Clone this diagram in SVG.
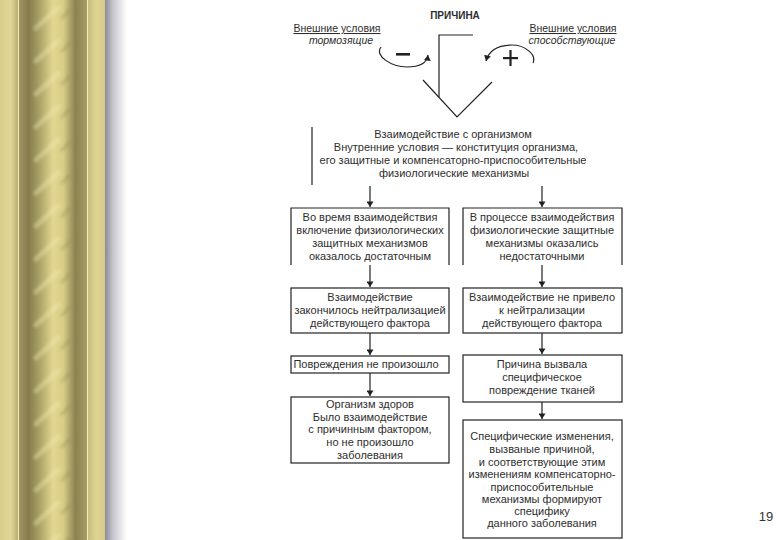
<svg xmlns="http://www.w3.org/2000/svg" width="780" height="540" viewBox="0 0 780 540">
<defs>
<linearGradient id="outerL" x1="0" x2="1" y1="0" y2="0">
<stop offset="0" stop-color="#d9cd8c"/><stop offset="0.6" stop-color="#e2d696"/><stop offset="1" stop-color="#b8ad72"/>
</linearGradient>
<linearGradient id="outerR" x1="0" x2="1" y1="0" y2="0">
<stop offset="0" stop-color="#c9bd7e"/><stop offset="0.5" stop-color="#e0d492"/><stop offset="1" stop-color="#d6ca8a"/>
</linearGradient>
<linearGradient id="col" x1="0" x2="1" y1="0" y2="0">
<stop offset="0" stop-color="#a59a62"/><stop offset="0.15" stop-color="#857a4c"/><stop offset="0.3" stop-color="#a8a064"/>
<stop offset="0.5" stop-color="#e2d690"/><stop offset="0.65" stop-color="#d8cc86"/><stop offset="0.82" stop-color="#8c8250"/>
<stop offset="1" stop-color="#a89e66"/>
</linearGradient>
<linearGradient id="shadow" x1="0" x2="1" y1="0" y2="0">
<stop offset="0" stop-color="#8a8a98"/><stop offset="0.35" stop-color="#c4c4cc"/><stop offset="1" stop-color="#ffffff"/>
</linearGradient>
<pattern id="streaks" width="70" height="33" patternUnits="userSpaceOnUse">
<path d="M36,28 L58,8" stroke="#f4eab4" stroke-width="5" stroke-linecap="round" opacity="0.4"/>
<path d="M62,18 L70,10" stroke="#6e6440" stroke-width="3" stroke-linecap="round" opacity="0.25"/>
</pattern>
<filter id="soft" x="-0.1" y="-0.1" width="1.2" height="1.2">
<feGaussianBlur stdDeviation="1.6"/>
</filter>
<marker id="ah" viewBox="0 0 8 10" refX="8" refY="5" markerWidth="6" markerHeight="7" orient="auto" markerUnits="userSpaceOnUse">
<path d="M0,0 L8,5 L0,10 Z" fill="#222"/>
</marker>
<style>
text{font-family:"Liberation Sans",Arial,sans-serif;fill:#2e2e2e;}
.t{font-size:11px;text-anchor:middle;}
.box{fill:none;stroke:#222;stroke-width:1.2;}
.ln{fill:none;stroke:#222;stroke-width:1.2;}
.arr{fill:none;stroke:#222;stroke-width:1.2;marker-end:url(#ah);}
</style>
</defs>

<g id="border">
<rect x="0" y="0" width="18" height="540" fill="url(#outerL)"/>
<rect x="18" y="0" width="70" height="540" fill="url(#col)"/>
<rect x="18" y="-10" width="70" height="560" fill="url(#streaks)" filter="url(#soft)"/>
<rect x="88" y="0" width="17" height="540" fill="url(#outerR)"/>
<rect x="18" y="0" width="1" height="540" fill="#f2eab8"/>
<rect x="87" y="0" width="1" height="540" fill="#f2eab8"/>
<rect x="105" y="0" width="22" height="540" fill="url(#shadow)"/>
</g>

<g id="cause">
<text x="455" y="19" style="font-size:10px;font-weight:bold;text-anchor:middle">ПРИЧИНА</text>
</g>
<g id="inhibit">
<text x="337" y="32" class="t" style="font-size:10.5px;text-decoration:underline">Внешние условия</text>
<text x="341" y="44" class="t" style="font-size:10.5px;font-style:italic">тормозящие</text>
</g>
<g id="promote">
<text x="573" y="32" class="t" style="font-size:10.5px;text-decoration:underline">Внешние условия</text>
<text x="572" y="44" class="t" style="font-size:10.5px;font-style:italic">способствующие</text>
</g>
<g id="minus">
<path d="M381,47 C374,56 392,67 407,67 C419,67 427,63 428,55" class="arr"/>
<rect x="396" y="53" width="14" height="2.6" fill="#222"/>
</g>
<g id="plus">
<path d="M533,63 C537,54 524,45 512,45 C499,45 489,50 486,61" class="arr"/>
<rect x="503" y="57" width="15" height="2.2" fill="#222"/>
<rect x="509.4" y="50" width="2.2" height="16" fill="#222"/>
</g>

<g id="interaction">
<text x="453" y="138" class="t">Взаимодействие с организмом</text>
<text x="456" y="151" class="t">Внутренние условия — конституция организма,</text>
<text x="453" y="164" class="t">его защитные и компенсаторно-приспособительные</text>
<text x="454" y="177" class="t">физиологические механизмы</text>
</g>

<g id="L1">
<path d="M291,265 V208 H449 V265" class="box"/>
<text x="370" y="221" class="t">Во время взаимодействия</text>
<text x="370" y="234" class="t">включение физиологических</text>
<text x="370" y="247" class="t">защитных механизмов</text>
<text x="370" y="260" class="t">оказалось достаточным</text>
</g>
<g id="R1">
<path d="M463,265 V208 H622 V265" class="box"/>
<text x="542" y="221" class="t">В процессе взаимодействия</text>
<text x="542" y="234" class="t">физиологические защитные</text>
<text x="542" y="247" class="t">механизмы оказались</text>
<text x="542" y="260" class="t">недостаточными</text>
</g>
<g id="L2">
<rect x="291" y="288" width="158" height="45" class="box"/>
<text x="370" y="301" class="t">Взаимодействие</text>
<text x="370" y="314" class="t">закончилось нейтрализацией</text>
<text x="370" y="327" class="t">действующего фактора</text>
</g>
<g id="R2">
<rect x="463" y="288" width="159" height="45" class="box"/>
<text x="542" y="301" class="t">Взаимодействие не привело</text>
<text x="542" y="314" class="t">к нейтрализации</text>
<text x="542" y="327" class="t">действующего фактора</text>
</g>
<g id="L3">
<rect x="291" y="356" width="158" height="17" class="box"/>
<text x="366" y="368" class="t">Повреждения не произошло</text>
</g>
<g id="R3">
<rect x="463" y="355" width="159" height="47" class="box"/>
<text x="542" y="368" class="t">Причина вызвала</text>
<text x="542" y="381" class="t">специфическое</text>
<text x="542" y="394" class="t">повреждение тканей</text>
</g>
<g id="L4">
<rect x="291" y="397" width="158" height="66" class="box"/>
<text x="370" y="408" class="t">Организм здоров</text>
<text x="370" y="421" class="t">Было взаимодействие</text>
<text x="370" y="433" class="t">с причинным фактором,</text>
<text x="370" y="446" class="t">но не произошло</text>
<text x="370" y="459" class="t">заболевания</text>
</g>
<g id="R4">
<rect x="463" y="420" width="159" height="118" class="box"/>
<text x="542" y="440" class="t">Специфические изменения,</text>
<text x="542" y="453" class="t">вызваные причиной,</text>
<text x="542" y="466" class="t">и соответствующие этим</text>
<text x="542" y="478" class="t">изменениям компенсаторно-</text>
<text x="542" y="491" class="t">приспособительные</text>
<text x="542" y="503" class="t">механизмы формируют</text>
<text x="542" y="515" class="t">специфику</text>
<text x="542" y="527" class="t">данного заболевания</text>
</g>

<g id="connectors">
<path d="M473,35 H439 V97" class="ln"/>
<path d="M423,80 L457,117 L492,82" class="ln"/>
<path d="M312,127 V185" class="ln"/>
<path d="M370,186 V207" class="arr"/>
<path d="M542,186 V207" class="arr"/>
<path d="M370,265 V287" class="arr"/>
<path d="M542,265 V287" class="arr"/>
<path d="M370,333 V355" class="arr"/>
<path d="M542,333 V354" class="arr"/>
<path d="M370,373 V396" class="arr"/>
<path d="M542,402 V419" class="arr"/>
</g>

<g id="page">
<text x="766" y="521" style="font-size:13px;text-anchor:middle;fill:#333">19</text>
</g>
</svg>
